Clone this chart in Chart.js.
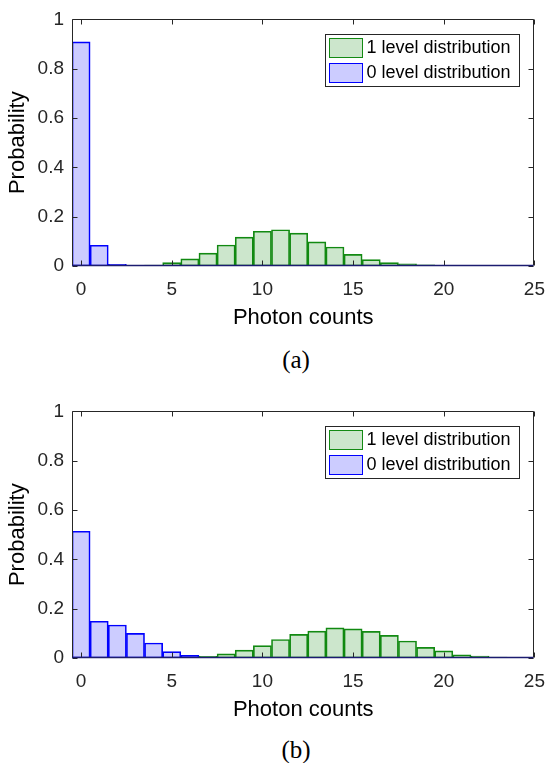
<!DOCTYPE html>
<html>
<head>
<meta charset="utf-8">
<script src="https://cdn.jsdelivr.net/npm/chart.js@4.4.1/dist/chart.umd.min.js"></script>
<style>
  body { margin: 0; background: #fff; width: 557px; height: 763px; position: relative; overflow: hidden; }
  canvas { position: absolute; left: 0; }
  #chartA { top: 0; }
  #chartB { top: 392px; }
  .cap { position: absolute; font-family: "Liberation Serif", serif; font-size: 25px; color: #000;
         width: 80px; margin-left: -40px; text-align: center; line-height: 28px; }
</style>
</head>
<body>
<canvas id="chartA" width="557" height="340"></canvas>
<canvas id="chartB" width="557" height="340"></canvas>
<div class="cap" style="left:296px; top:346px;">(a)</div>
<div class="cap" style="left:296px; top:736px;">(b)</div>
<script>
const bins = [0,1,2,3,4,5,6,7,8,9,10,11,12,13,14,15,16,17,18,19,20,21,22,23,24];

// (a)
const oneLevelA  = [0,0,0,0.001,0.004,0.014,0.029,0.052,0.085,0.117,0.141,0.147,0.133,0.098,0.077,0.047,0.026,0.014,0.009,0.005,0.002,0.001,0.001,0,0];
const zeroLevelA = [0.909,0.084,0.007,0.002,0,0,0,0,0,0,0,0,0,0,0,0,0,0,0,0,0,0,0,0,0];

// (b)
const oneLevelB  = [0,0,0,0,0,0,0.002,0.007,0.017,0.032,0.050,0.075,0.096,0.109,0.122,0.118,0.108,0.092,0.069,0.043,0.029,0.013,0.008,0.004,0.001];
const zeroLevelB = [0.514,0.149,0.134,0.100,0.061,0.026,0.011,0.004,0.001,0,0,0,0,0,0,0,0,0,0,0,0,0,0,0,0];

const xTicks = [0,5,10,15,20,25];
const yTicks = [0,0.2,0.4,0.6,0.8,1];
const seriesLabels = ["1 level distribution", "0 level distribution"];

const axisColor = "#262626";
const font = "Liberation Sans, Arial, sans-serif";

// box around the axes with inward ticks, matlab style
const boxPlugin = {
  id: "box",
  afterDatasetsDraw(chart) {
    const {ctx, chartArea: a, scales} = chart;
    const L = Math.round(a.left) + 0.5, R = Math.round(a.right) - 0.5;
    const T = Math.round(a.top) + 0.5, B = Math.round(a.bottom) - 0.5;
    ctx.save();
    ctx.lineWidth = 1;
    ctx.strokeStyle = axisColor;
    ctx.beginPath();
    xTicks.forEach(v => {
      const x = Math.round(scales.x.getPixelForValue(v)) + 0.5;
      ctx.moveTo(x, B); ctx.lineTo(x, B - 5);
      ctx.moveTo(x, T); ctx.lineTo(x, T + 5);
    });
    yTicks.forEach(v => {
      const y = Math.round(scales.y.getPixelForValue(v)) + 0.5;
      ctx.moveTo(L, y); ctx.lineTo(L + 5, y);
      ctx.moveTo(R, y); ctx.lineTo(R - 5, y);
    });
    ctx.stroke();
    ctx.beginPath();
    ctx.moveTo(L, B); ctx.lineTo(L, T); ctx.lineTo(R, T); ctx.lineTo(R, B);
    ctx.stroke();
    ctx.strokeStyle = "#1c1c70";
    ctx.lineWidth = 1.5;
    ctx.beginPath();
    ctx.moveTo(L, B); ctx.lineTo(R, B);
    ctx.stroke();
    ctx.restore();
  }
};

const legendPlugin = {
  id: "boxLegend",
  afterDraw(chart) {
    const {ctx, chartArea: a} = chart;
    const w = 194, h = 52;
    const x0 = Math.round(a.right) - 15 - w + 0.5, y0 = Math.round(a.top) + 15 + 0.5;
    ctx.save();
    ctx.fillStyle = "#fff";
    ctx.fillRect(x0, y0, w, h);
    ctx.strokeStyle = axisColor;
    ctx.lineWidth = 1;
    ctx.strokeRect(x0, y0, w, h);
    chart.data.datasets.forEach((ds, i) => {
      const sy = y0 + 4 + i * 25;
      ctx.fillStyle = ds.backgroundColor;
      ctx.fillRect(x0 + 4, sy, 33, 19);
      ctx.strokeStyle = ds.borderColor;
      ctx.strokeRect(x0 + 4, sy, 33, 19);
      ctx.fillStyle = "#000";
      ctx.font = "18px " + font;
      ctx.textBaseline = "middle";
      ctx.fillText(ds.label, x0 + 41, sy + 10);
    });
    ctx.restore();
  }
};

function makeChart(id, oneVals, zeroVals) {
  return new Chart(document.getElementById(id), {
    type: "bar",
    data: {
      datasets: [
        {
          label: seriesLabels[0],
          data: bins.map((b, i) => ({x: b, y: oneVals[i]})),
          backgroundColor: "rgba(0,128,0,0.2)",
          borderColor: "#138a13",
          borderWidth: 1,
          borderSkipped: false,
          grouped: false,
          barPercentage: 1,
          categoryPercentage: 1
        },
        {
          label: seriesLabels[1],
          data: bins.map((b, i) => ({x: b, y: zeroVals[i]})),
          backgroundColor: "rgba(0,0,255,0.2)",
          borderColor: "#0000ff",
          borderWidth: 1,
          borderSkipped: false,
          grouped: false,
          barPercentage: 1,
          categoryPercentage: 1
        }
      ]
    },
    options: {
      responsive: false,
      animation: false,
      devicePixelRatio: 1,
      layout: {padding: {top: 12, right: 11, left: 0, bottom: 0}},
      plugins: {legend: {display: false}, tooltip: {enabled: false}},
      scales: {
        x: {
          type: "linear",
          min: -0.5,
          max: 25,
          offset: false,
          grid: {display: false, drawTicks: false},
          border: {display: false},
          afterBuildTicks: s => { s.ticks = xTicks.map(v => ({value: v})); },
          afterFit: s => { s.height = 74; },
          ticks: {color: axisColor, font: {family: font, size: 19}, padding: 12, maxRotation: 0,
                  callback: v => String(v)},
          title: {display: true, text: "Photon counts", color: "#000",
                  font: {family: font, size: 22}, padding: {top: 0, bottom: 9}}
        },
        y: {
          min: 0,
          max: 1,
          grid: {display: false, drawTicks: false},
          border: {display: false},
          afterBuildTicks: s => { s.ticks = yTicks.map(v => ({value: v})); },
          afterFit: s => { s.width = 72; },
          ticks: {color: axisColor, font: {family: font, size: 19}, padding: 8,
                  callback: v => String(v)},
          title: {display: true, text: "Probability", color: "#000",
                  font: {family: font, size: 22}, padding: {top: 5, bottom: 0}}
        }
      }
    },
    plugins: [boxPlugin, legendPlugin]
  });
}

makeChart("chartA", oneLevelA, zeroLevelA);
makeChart("chartB", oneLevelB, zeroLevelB);
</script>
</body>
</html>
